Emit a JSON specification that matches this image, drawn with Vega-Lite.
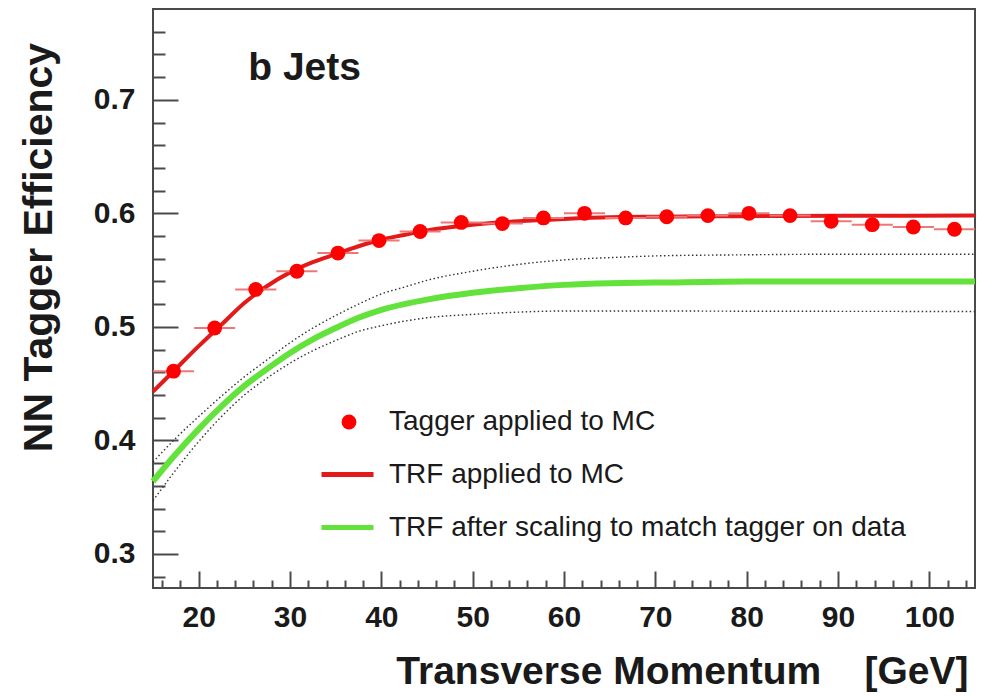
{
  "$schema": "https://vega.github.io/schema/vega-lite/v6.json",
  "width": 822,
  "height": 579,
  "autosize": {"type": "none"},
  "padding": {"left": 153, "top": 9, "right": 11, "bottom": 108},
  "background": "white",
  "config": {
    "view": {"stroke": "#4a4a4a", "strokeWidth": 2},
    "font": "Liberation Sans",
    "axis": {
      "grid": false,
      "domain": false,
      "tickColor": "#4a4a4a",
      "tickWidth": 2,
      "labelFont": "Liberation Sans",
      "labelFontWeight": "bold",
      "labelFontSize": 30,
      "labelColor": "#1a1a1a",
      "titleFont": "Liberation Sans",
      "titleFontWeight": "bold",
      "titleColor": "#1a1a1a"
    }
  },
  "datasets": {
    "curves": [
      {"pt": 15, "trf": 0.443, "scaled": 0.364, "up": 0.381, "lo": 0.347},
      {"pt": 17.5, "trf": 0.463, "scaled": 0.388, "up": 0.402, "lo": 0.374},
      {"pt": 20, "trf": 0.483, "scaled": 0.41, "up": 0.421, "lo": 0.399},
      {"pt": 22.5, "trf": 0.502, "scaled": 0.43, "up": 0.439, "lo": 0.421},
      {"pt": 25, "trf": 0.521, "scaled": 0.448, "up": 0.456, "lo": 0.44},
      {"pt": 27.5, "trf": 0.536, "scaled": 0.463, "up": 0.471, "lo": 0.455},
      {"pt": 30, "trf": 0.548, "scaled": 0.477, "up": 0.486, "lo": 0.468},
      {"pt": 32.5, "trf": 0.557, "scaled": 0.489, "up": 0.499, "lo": 0.479},
      {"pt": 35, "trf": 0.564, "scaled": 0.499, "up": 0.51, "lo": 0.488},
      {"pt": 37.5, "trf": 0.571, "scaled": 0.508, "up": 0.52, "lo": 0.496},
      {"pt": 40, "trf": 0.577, "scaled": 0.515, "up": 0.529, "lo": 0.501},
      {"pt": 42.5, "trf": 0.581, "scaled": 0.52, "up": 0.535, "lo": 0.505},
      {"pt": 45, "trf": 0.585, "scaled": 0.524, "up": 0.541, "lo": 0.508},
      {"pt": 50, "trf": 0.59, "scaled": 0.53, "up": 0.549, "lo": 0.511},
      {"pt": 55, "trf": 0.593, "scaled": 0.534, "up": 0.555, "lo": 0.513},
      {"pt": 60, "trf": 0.595, "scaled": 0.537, "up": 0.559, "lo": 0.514},
      {"pt": 65, "trf": 0.5965, "scaled": 0.5385, "up": 0.561, "lo": 0.514},
      {"pt": 70, "trf": 0.597, "scaled": 0.539, "up": 0.5625, "lo": 0.514},
      {"pt": 80, "trf": 0.5975, "scaled": 0.54, "up": 0.5635, "lo": 0.5138},
      {"pt": 90, "trf": 0.5978, "scaled": 0.54, "up": 0.564, "lo": 0.5137},
      {"pt": 105, "trf": 0.598, "scaled": 0.54, "up": 0.564, "lo": 0.5135}
    ],
    "points": [
      {"pt": 17.25, "eff": 0.461, "lo": 15, "hi": 19.5},
      {"pt": 21.75, "eff": 0.499, "lo": 19.5, "hi": 24},
      {"pt": 26.25, "eff": 0.533, "lo": 24, "hi": 28.5},
      {"pt": 30.75, "eff": 0.549, "lo": 28.5, "hi": 33},
      {"pt": 35.25, "eff": 0.565, "lo": 33, "hi": 37.5},
      {"pt": 39.75, "eff": 0.576, "lo": 37.5, "hi": 42},
      {"pt": 44.25, "eff": 0.584, "lo": 42, "hi": 46.5},
      {"pt": 48.75, "eff": 0.592, "lo": 46.5, "hi": 51},
      {"pt": 53.25, "eff": 0.591, "lo": 51, "hi": 55.5},
      {"pt": 57.75, "eff": 0.596, "lo": 55.5, "hi": 60},
      {"pt": 62.25, "eff": 0.6, "lo": 60, "hi": 64.5},
      {"pt": 66.75, "eff": 0.596, "lo": 64.5, "hi": 69},
      {"pt": 71.25, "eff": 0.597, "lo": 69, "hi": 73.5},
      {"pt": 75.75, "eff": 0.598, "lo": 73.5, "hi": 78},
      {"pt": 80.25, "eff": 0.6, "lo": 78, "hi": 82.5},
      {"pt": 84.75, "eff": 0.598, "lo": 82.5, "hi": 87},
      {"pt": 89.25, "eff": 0.593, "lo": 87, "hi": 91.5},
      {"pt": 93.75, "eff": 0.59, "lo": 91.5, "hi": 96},
      {"pt": 98.25, "eff": 0.588, "lo": 96, "hi": 100.5},
      {"pt": 102.75, "eff": 0.586, "lo": 100.5, "hi": 105}
    ]
  },
  "layer": [
    {
      "data": {"name": "curves"},
      "mark": {"type": "line", "stroke": "#333333", "strokeWidth": 1.4, "strokeDash": [1.5, 2.5], "interpolate": "monotone"},
      "encoding": {
        "x": {
          "field": "pt", "type": "quantitative",
          "scale": {"domain": [15, 105], "nice": false, "zero": false},
          "axis": {
            "orient": "bottom", "ticks": false, "tickSize": 0, "labelPadding": 14,
            "values": [20, 30, 40, 50, 60, 70, 80, 90, 100],
            "title": "Transverse Momentum\u00a0\u00a0\u00a0\u00a0[GeV]",
            "titleFontSize": 39, "titleX": 815, "titleY": 95,
            "titleAlign": "right", "titleBaseline": "alphabetic"
          }
        },
        "y": {
          "field": "up", "type": "quantitative",
          "scale": {"domain": [0.27, 0.78], "nice": false, "zero": false},
          "axis": {
            "orient": "left", "ticks": false, "tickSize": 0, "labelPadding": 18,
            "values": [0.3, 0.4, 0.5, 0.6, 0.7], "format": ".1f",
            "title": "NN Tagger Efficiency",
            "titleFontSize": 41, "titleX": -102, "titleY": 238,
            "titleAlign": "center", "titleBaseline": "alphabetic", "titleAngle": -90
          }
        }
      }
    },
    {
      "data": {"name": "curves"},
      "mark": {"type": "line", "stroke": "#333333", "strokeWidth": 1.4, "strokeDash": [1.5, 2.5], "interpolate": "monotone"},
      "encoding": {
        "x": {
          "field": "pt", "type": "quantitative",
          "axis": {"orient": "top", "offset": -579, "values": [20, 30, 40, 50, 60, 70, 80, 90, 100], "tickSize": 17, "labels": false, "title": null}
        },
        "y": {
          "field": "lo", "type": "quantitative",
          "axis": {"orient": "right", "offset": -822, "values": [0.3, 0.4, 0.5, 0.6, 0.7], "tickSize": 25, "labels": false, "title": null}
        }
      }
    },
    {
      "data": {"name": "curves"},
      "mark": {"type": "line", "strokeWidth": 6, "interpolate": "monotone"},
      "encoding": {
        "x": {
          "field": "pt", "type": "quantitative",
          "axis": {"orient": "top", "offset": -579, "values": [16, 18, 22, 24, 26, 28, 32, 34, 36, 38, 42, 44, 46, 48, 52, 54, 56, 58, 62, 64, 66, 68, 72, 74, 76, 78, 82, 84, 86, 88, 92, 94, 96, 98, 102, 104], "tickSize": 8, "labels": false, "title": null}
        },
        "y": {
          "field": "scaled", "type": "quantitative",
          "axis": {"orient": "right", "offset": -822, "values": [0.28, 0.32, 0.34, 0.36, 0.38, 0.42, 0.44, 0.46, 0.48, 0.52, 0.54, 0.56, 0.58, 0.62, 0.64, 0.66, 0.68, 0.72, 0.74, 0.76], "tickSize": 12, "labels": false, "title": null}
        },
        "color": {
          "datum": "TRF after scaling to match tagger on data",
          "scale": {"domain": ["TRF applied to MC", "TRF after scaling to match tagger on data"], "range": ["#e31a1a", "#62e23a"]},
          "legend": {
            "orient": "none", "legendX": 166, "legendY": 437, "title": null,
            "symbolType": "stroke", "symbolSize": 2704, "symbolStrokeWidth": 5,
            "labelFont": "Liberation Sans", "labelFontSize": 28, "labelColor": "#1a1a1a",
            "labelOffset": 13, "rowPadding": 10, "padding": 0, "labelLimit": 1000
          }
        }
      }
    },
    {
      "data": {"name": "curves"},
      "mark": {"type": "line", "strokeWidth": 4, "interpolate": "monotone"},
      "encoding": {
        "x": {"field": "pt", "type": "quantitative", "axis": null},
        "y": {"field": "trf", "type": "quantitative", "axis": null},
        "color": {"datum": "TRF applied to MC"}
      }
    },
    {
      "data": {"name": "points"},
      "mark": {"type": "rule", "color": "#ee7777", "strokeWidth": 2},
      "encoding": {
        "x": {"field": "lo", "type": "quantitative", "axis": null},
        "x2": {"field": "hi"},
        "y": {"field": "eff", "type": "quantitative", "axis": null}
      }
    },
    {
      "data": {"name": "points"},
      "mark": {"type": "point", "filled": true, "color": "#ff0000", "size": 220, "opacity": 1},
      "encoding": {
        "x": {"field": "pt", "type": "quantitative", "axis": null},
        "y": {"field": "eff", "type": "quantitative", "axis": null},
        "shape": {
          "datum": "Tagger applied to MC",
          "scale": {"domain": ["Tagger applied to MC"], "range": ["circle"]},
          "legend": {
            "orient": "none", "legendX": 182, "legendY": 399, "title": null,
            "symbolSize": 220, "symbolFillColor": "#ff0000", "symbolStrokeColor": "#ff0000", "symbolStrokeWidth": 0,
            "labelFont": "Liberation Sans", "labelFontSize": 28, "labelColor": "#1a1a1a",
            "labelOffset": 26, "padding": 0, "labelLimit": 1000
          }
        }
      }
    },
    {
      "data": {"values": [{"label": "b Jets"}]},
      "mark": {"type": "text", "font": "Liberation Sans", "fontWeight": "bold", "fontSize": 39, "align": "left", "baseline": "alphabetic", "color": "#1a1a1a"},
      "encoding": {
        "x": {"datum": 25.43, "type": "quantitative", "axis": null},
        "y": {"datum": 0.7175, "type": "quantitative", "axis": null},
        "text": {"field": "label"}
      }
    }
  ],
  "resolve": {"axis": {"x": "independent", "y": "independent"}}
}
